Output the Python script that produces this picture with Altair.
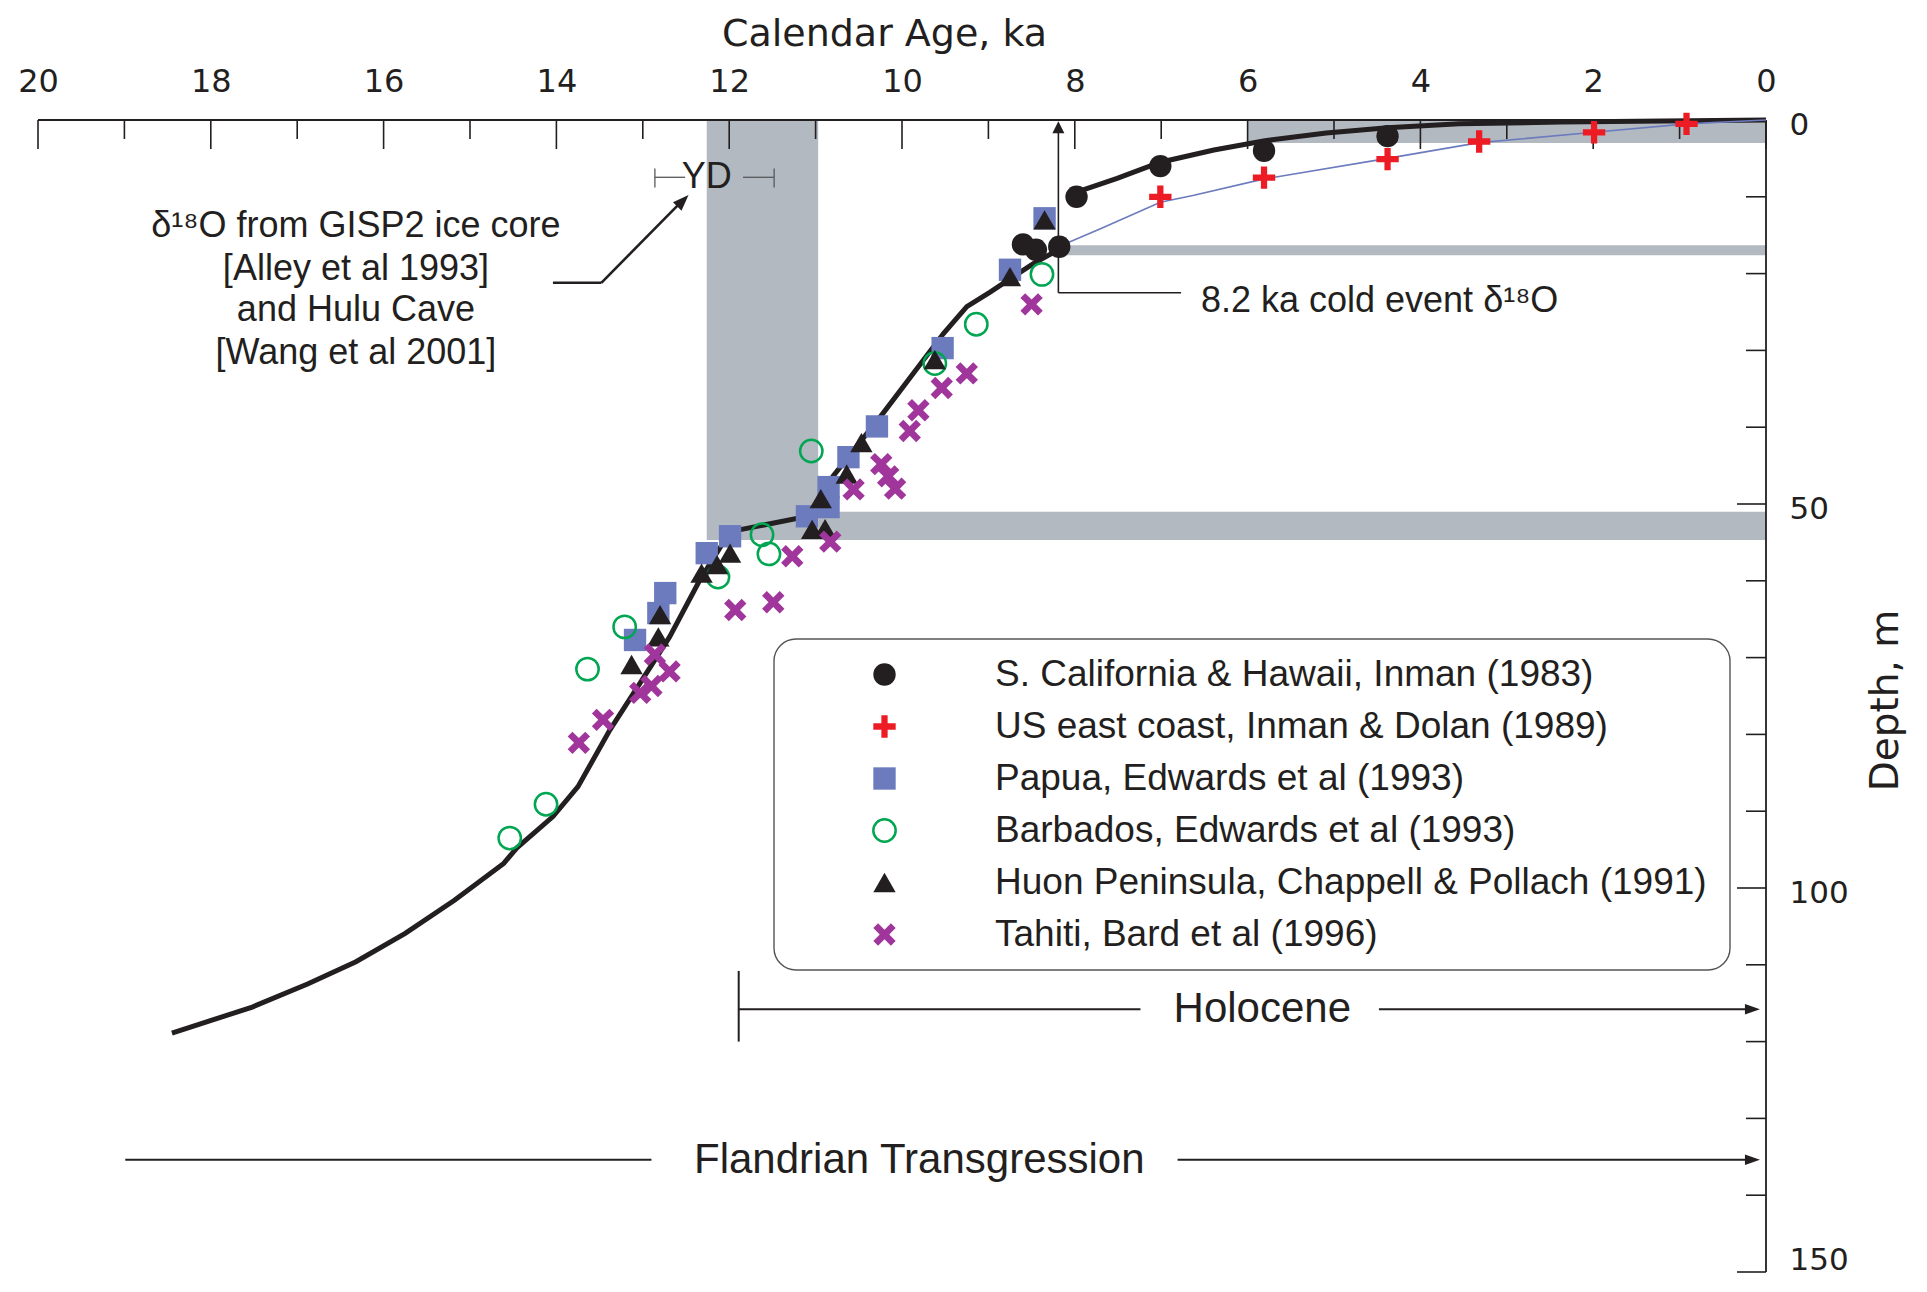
import math
import altair as alt
import pandas as pd

# ---------------- colours ----------------
BLACK = "#231f20"
RED = "#ed1c24"
BLUE = "#6b7bbd"
GREEN = "#00a651"
PURPLE = "#a0359b"
GRAY = "#b3b9c1"
DGRAY = "#58595b"

# ---------------- data ----------------
series_names = [
    "S. California & Hawaii, Inman (1983)",
    "US east coast, Inman & Dolan (1989)",
    "Papua, Edwards et al (1993)",
    "Barbados, Edwards et al (1993)",
    "Huon Peninsula, Chappell & Pollach (1991)",
    "Tahiti, Bard et al (1996)",
]

socal_age = [8.18, 8.45, 8.60, 7.98, 7.01, 5.81, 4.38]
socal_depth = [16.5, 16.9, 16.2, 10.0, 6.0, 4.0, 2.1]

useast_age = [7.01, 5.81, 4.38, 3.32, 1.99, 0.92]
useast_depth = [10.0, 7.5, 5.1, 2.8, 1.6, 0.5]

papua_age = [8.35, 8.75, 9.53, 10.29, 10.62, 10.85, 10.85, 11.10, 11.99, 12.26, 12.74, 12.82, 13.09]
papua_depth = [12.8, 19.5, 29.7, 39.9, 43.9, 47.8, 50.4, 51.6, 54.2, 56.4, 61.6, 64.2, 67.7]

barbados_age = [8.38, 9.14, 9.62, 11.05, 11.62, 11.54, 12.13, 13.21, 13.64, 14.12, 14.54]
barbados_depth = [20.1, 26.6, 31.7, 43.1, 54.0, 56.5, 59.5, 66.0, 71.5, 89.1, 93.5]

huon_age = [8.35, 8.75, 9.62, 10.47, 10.64, 10.94, 11.04, 10.89, 11.99, 12.14, 12.32, 12.80, 12.82, 13.13]
huon_depth = [13.0, 20.4, 31.2, 42.0, 46.1, 49.3, 53.3, 53.2, 56.4, 57.9, 59.0, 64.4, 67.3, 70.9]

tahiti_age = [8.50, 9.25, 9.54, 9.81, 9.91, 10.24, 10.16, 10.08, 10.56, 10.83, 11.27, 11.49, 11.93,
              12.86, 12.69, 12.90, 13.03, 13.46, 13.74]
tahiti_depth = [24.0, 33.0, 34.9, 37.8, 40.5, 44.8, 46.4, 48.0, 48.1, 54.9, 56.8, 62.8, 63.8,
                69.6, 71.8, 73.7, 74.6, 78.1, 81.1]

# main sea-level curve (glacial to 8.2 ka)
main_age = [18.45, 17.52, 16.88, 16.32, 15.75, 15.18, 14.61, 14.46, 14.04, 13.75, 13.38, 13.03,
            12.69, 12.34, 11.99, 10.91, 10.80, 10.56, 10.22, 9.87, 9.52, 9.25, 8.98, 8.71, 8.48, 8.19]
main_depth = [118.9, 115.5, 112.5, 109.6, 105.9, 101.6, 96.8, 94.8, 90.7, 86.8, 79.4, 73.3,
              67.3, 59.9, 53.6, 51.2, 46.4, 43.0, 38.2, 33.0, 27.8, 24.3, 22.4, 20.4, 18.7, 16.9]

# upper black curve (Inman 1983)
upper_age = [7.98, 7.51, 7.01, 6.39, 5.80, 5.09, 4.38, 3.55, 2.37, 0.89, 0.0]
upper_depth = [9.4, 7.6, 5.5, 3.9, 2.7, 1.7, 1.0, 0.5, 0.26, 0.09, 0.0]

# thin blue curve (Inman & Dolan 1989)
blue_age = [8.19, 7.69, 7.01, 6.62, 5.82, 4.38, 3.32, 1.99, 0.92, 0.0]
blue_depth = [16.5, 14.1, 10.7, 9.8, 7.7, 5.0, 2.95, 1.6, 0.5, 0.0]

# grey bands (YD, 50 m, 8.2 ka event, mid-Holocene)
band_age_from = [12.26, 10.97, 8.19, 6.0]
band_age_to = [10.97, 0.0, 0.0, 0.0]
band_depth_from = [0.0, 51.0, 16.3, 0.0]
band_depth_to = [54.7, 54.7, 17.6, 3.0]

age_ticks = list(range(0, 21))
age_labels = list(range(0, 21, 2))
depth_ticks = list(range(0, 151, 10))
depth_labels = [0, 50, 100, 150]

# ---------------- layout ----------------
W, H = 1728, 1152
FONT = "Liberation Sans"
AXFONT = "DejaVu Sans"

XS = alt.Scale(domain=[0, 20], reverse=True, nice=False, zero=False)
YS = alt.Scale(domain=[0, 150], reverse=True, nice=False, zero=False)

XAX = alt.Axis(orient="top", values=age_labels, format="d", ticks=False, tickSize=0, domain=False,
               grid=False, labelFont=AXFONT, labelFontSize=32, labelColor=BLACK, labelPadding=29,
               labelBaseline="alphabetic", labelFlush=False, labelOverlap=False,
               title="Calendar Age, ka", titleFont=AXFONT, titleFontSize=38, titleFontWeight="normal",
               titleColor=BLACK, titleX=846, titleY=-75, titleAlign="center",
               titleBaseline="alphabetic", titleAngle=0)
YAX = alt.Axis(orient="right", values=depth_labels, format="d", ticks=False, tickSize=0, domain=False,
               grid=False, labelFont=AXFONT, labelFontSize=31, labelColor=BLACK, labelPadding=23,
               labelAlign="left", labelBaseline="middle",
               labelOffset={"condition": {"test": "datum.value >= 150", "value": -12}, "value": 5},
               labelFlush=False,
               labelOverlap=False, title="Depth, m", titleFont=AXFONT, titleFontSize=39,
               titleFontWeight="normal", titleColor=BLACK, titleAngle=270, titleX=119, titleY=580,
               titleAlign="center", titleBaseline="middle")


def X(f):
    return alt.X(f, scale=XS, axis=XAX)


def Y(f):
    return alt.Y(f, scale=YS, axis=YAX)


def seg_layer(x1, x2, y1, y2, color, width):
    df = pd.DataFrame({"x1": x1, "x2": x2, "y1": y1, "y2": y2})
    return alt.Chart(df).mark_rule(color=color, strokeWidth=width, strokeCap="butt").encode(
        x=X("x1:Q"), x2="x2:Q", y=Y("y1:Q"), y2="y2:Q")


def plus_pts(t):
    return [(-1, -t), (-t, -t), (-t, -1), (t, -1), (t, -t), (1, -t), (1, t), (t, t), (t, 1),
            (-t, 1), (-t, t), (-1, t)]


def path(pts):
    return "M" + "L".join(f"{a:.3f},{b:.3f}" for a, b in pts) + "Z"


PLUS = path(plus_pts(0.28))
c = math.cos(math.pi / 4)
_rot = [((a - b) * c, (a + b) * c) for a, b in plus_pts(0.27)]
_m = max(max(abs(a), abs(b)) for a, b in _rot)
XSHAPE = path([(a / _m, b / _m) for a, b in _rot])

shapes = ["circle", PLUS, "square", "circle", "triangle-up", XSHAPE]
fills = [BLACK, RED, BLUE, "transparent", BLACK, PURPLE]
strokes = ["transparent", "transparent", "transparent", GREEN, "transparent", "transparent"]

# ---------------- layers ----------------
band_df = pd.DataFrame({"a1": band_age_from, "a2": band_age_to, "d1": band_depth_from, "d2": band_depth_to})
bands = alt.Chart(band_df).mark_rect(color=GRAY, opacity=1).encode(
    x=X("a1:Q"), x2="a2:Q", y=Y("d1:Q"), y2="d2:Q")

tdf = pd.DataFrame({"t": age_ticks})
tdf["major"] = tdf["t"] % 2 == 0
top_major = alt.Chart(tdf[tdf["major"]]).mark_rule(color=BLACK, strokeWidth=1.6).encode(
    x=X("t:Q"), y=alt.value(0), y2=alt.value(29))
top_minor = alt.Chart(tdf[~tdf["major"]]).mark_rule(color=BLACK, strokeWidth=1.6).encode(
    x=X("t:Q"), y=alt.value(0), y2=alt.value(19))

ddf = pd.DataFrame({"d": depth_ticks})
ddf["major"] = ddf["d"] % 50 == 0
right_major = alt.Chart(ddf[ddf["major"]]).mark_rule(color=BLACK, strokeWidth=1.6).encode(
    y=Y("d:Q"), x=alt.value(W - 29), x2=alt.value(W))
right_minor = alt.Chart(ddf[~ddf["major"]]).mark_rule(color=BLACK, strokeWidth=1.6).encode(
    y=Y("d:Q"), x=alt.value(W - 20), x2=alt.value(W))

dom_top = alt.Chart(pd.DataFrame({"a": [20], "b": [0]})).mark_rule(color=BLACK, strokeWidth=1.8).encode(
    x=X("a:Q"), x2="b:Q", y=alt.value(0))
dom_right = alt.Chart(pd.DataFrame({"a": [0], "b": [150]})).mark_rule(color=BLACK, strokeWidth=1.8).encode(
    y=Y("a:Q"), y2="b:Q", x=alt.value(W))

line_df = pd.DataFrame({
    "age": main_age + upper_age,
    "depth": main_depth + upper_depth,
    "seg": ["main"] * len(main_age) + ["upper"] * len(upper_age),
    "ord": list(range(len(main_age))) + list(range(len(upper_age))),
})
black_lines = alt.Chart(line_df).mark_line(color=BLACK, strokeWidth=5).encode(
    x=X("age:Q"), y=Y("depth:Q"), detail="seg:N", order="ord:Q")

blue_df = pd.DataFrame({"age": blue_age, "depth": blue_depth, "ord": list(range(len(blue_age)))})
blue_line = alt.Chart(blue_df).mark_line(color=BLUE, strokeWidth=1.6).encode(
    x=X("age:Q"), y=Y("depth:Q"), order="ord:Q")

# annotation lines
yd_bracket = seg_layer([12.86, 12.86, 11.84, 11.48], [12.86, 12.51, 11.48, 11.48],
                       [6.3, 7.46, 7.46, 6.3], [8.8, 7.46, 7.46, 8.8], DGRAY, 1.3)
gisp_arrow = seg_layer([14.04, 13.48], [13.48, 12.55], [21.2, 21.2], [21.2, 10.6], BLACK, 2.6)
event_lines = seg_layer([8.19, 8.19], [8.19, 6.77], [22.5, 22.5], [1.2, 22.5], BLACK, 1.6)
period_lines = seg_layer([11.89, 11.89, 4.48, 18.99, 6.81], [11.89, 7.24, 0.12, 12.90, 0.12],
                         [110.8, 115.8, 115.8, 135.4, 135.4], [120.0, 115.8, 115.8, 135.4, 135.4],
                         BLACK, 2.0)

head_right = alt.Chart(pd.DataFrame({"a": [0.07, 0.07], "d": [115.8, 135.4]})).mark_point(
    shape="M1,0L-1,-0.7L-1,0.7Z", size=225, filled=True, color=BLACK, opacity=1, xOffset=-7.5).encode(
    x=X("a:Q"), y=Y("d:Q"))
head_up = alt.Chart(pd.DataFrame({"a": [8.19], "d": [0.15]})).mark_point(
    shape="M0,-1L1,1L-1,1Z", size=144, filled=True, color=BLACK, opacity=1, yOffset=6).encode(
    x=X("a:Q"), y=Y("d:Q"))
head_diag = alt.Chart(pd.DataFrame({"a": [12.47], "d": [9.77]})).mark_point(
    shape="M0,-1L0.75,1L-0.75,1Z", size=256, filled=True, color=BLACK, opacity=1, angle=45,
    xOffset=-5.7, yOffset=5.7).encode(x=X("a:Q"), y=Y("d:Q"))

# texts
gisp_text = ["δ¹⁸O from GISP2 ice core", "[Alley et al 1993]", "and Hulu Cave", "[Wang et al 2001]"]
gisp_df = pd.DataFrame({"a": [16.32] * 4, "d": [15.2, 20.8, 26.2, 31.8], "txt": gisp_text})
gisp = alt.Chart(gisp_df).mark_text(font=FONT, fontSize=36, align="center", baseline="alphabetic",
                                    color=BLACK).encode(x=X("a:Q"), y=Y("d:Q"), text="txt:N")

ev_df = pd.DataFrame({"a": [6.54], "d": [24.95], "txt": ["8.2 ka cold event δ¹⁸O"]})
ev_text = alt.Chart(ev_df).mark_text(font=FONT, fontSize=36, align="left", baseline="alphabetic",
                                     color=BLACK).encode(x=X("a:Q"), y=Y("d:Q"), text="txt:N")

yd_df = pd.DataFrame({"a": [12.26], "d": [8.8], "txt": ["YD"]})
yd_text = alt.Chart(yd_df).mark_text(font=FONT, fontSize=36, align="center", baseline="alphabetic",
                                     color=BLACK).encode(x=X("a:Q"), y=Y("d:Q"), text="txt:N")

per_df = pd.DataFrame({"a": [5.83, 9.80], "d": [115.8, 135.4], "txt": ["Holocene", "Flandrian Transgression"]})
per_text = alt.Chart(per_df).mark_text(font=FONT, fontSize=42, align="center", baseline="middle",
                                       color=BLACK).encode(x=X("a:Q"), y=Y("d:Q"), text="txt:N")

# legend frame
frame = alt.Chart(pd.DataFrame({"k": [0]})).mark_rect(
    fill="white", stroke="#555555", strokeWidth=1.4, cornerRadius=22).encode(
    x=alt.value(736), x2=alt.value(1692), y=alt.value(519), y2=alt.value(850))

# points
rows = []
for idx, ages, depths in [(2, papua_age, papua_depth), (3, barbados_age, barbados_depth),
                          (4, huon_age, huon_depth), (5, tahiti_age, tahiti_depth),
                          (0, socal_age, socal_depth), (1, useast_age, useast_depth)]:
    for a, d in zip(ages, depths):
        rows.append({"age": a, "depth": d, "series": series_names[idx]})
pts_df = pd.DataFrame(rows)

legend = alt.Legend(title=None, orient="none", legendX=828, legendY=536, labelFont=FONT,
                    labelFontSize=37, labelColor=BLACK, labelLimit=2000, symbolSize=500,
                    symbolStrokeWidth=2.5, labelOffset=92, rowPadding=14, padding=0,
                    direction="vertical")

points = alt.Chart(pts_df).mark_point(filled=True, size=500, strokeWidth=2.5, opacity=1).encode(
    x=X("age:Q"),
    y=Y("depth:Q"),
    shape=alt.Shape("series:N", scale=alt.Scale(domain=series_names, range=shapes), legend=legend),
    fill=alt.Fill("series:N", scale=alt.Scale(domain=series_names, range=fills), legend=legend),
    stroke=alt.Stroke("series:N", scale=alt.Scale(domain=series_names, range=strokes), legend=legend),
)

chart = alt.layer(
    bands, top_major, top_minor, right_major, right_minor, dom_top, dom_right,
    frame, yd_bracket, gisp_arrow, event_lines, period_lines, head_right, head_up, head_diag,
    black_lines, blue_line, points, gisp, ev_text, yd_text, per_text,
).properties(
    width=W, height=H,
    autosize=alt.AutoSizeParams(type="none"),
    padding={"left": 30, "top": 112, "right": 145, "bottom": 7},
    background="white",
).configure_view(stroke=None)

chart.save("out.html", embed_options={"renderer": "svg", "actions": False})
